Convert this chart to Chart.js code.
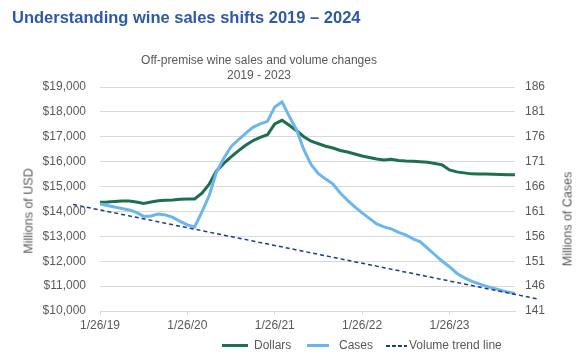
<!DOCTYPE html>
<html>
<head>
<meta charset="utf-8">
<script src="https://cdn.jsdelivr.net/npm/chart.js@4.4.1/dist/chart.umd.min.js"></script>
<style>
  body { margin: 0; background: #fff; font-family: "Liberation Sans", Arial, sans-serif; }
  #wrap { position: relative; width: 586px; height: 364px; overflow: hidden; }
  #wrap canvas { position: absolute; left: 0; top: 0; }
  .t { position: absolute; white-space: nowrap; color: #595959; font-size: 12px; line-height: 15px; }
  #head { left: 12px; top: 7px; font-size: 16.5px; line-height: 20px; font-weight: bold; color: #2E59A7; }
  #sub { left: 259px; top: 53px; transform: translateX(-50%); text-align: center; }
  .ytitle { font-size: 12.5px; transform: translate(-50%, -50%) rotate(-90deg); }
  .legline { position: absolute; height: 3px; }
</style>
</head>
<body>
<div id="wrap">
  <canvas id="chart" width="586" height="364"></canvas>
  <div class="t" id="head">Understanding wine sales shifts 2019 – 2024</div>
  <div class="t" id="sub">Off-premise wine sales and volume changes<br>2019 - 2023</div>
  <div class="t ytitle" style="left:29px; top:211px;">Millions of USD</div>
  <div class="t ytitle" style="left:568px; top:219px;">Millions of Cases</div>
  <div class="legline" style="left:222px; top:344px; width:26px; background:#1D6F4E;"></div>
  <div class="t" style="left:254px; top:338px;">Dollars</div>
  <div class="legline" style="left:307px; top:344px; width:22px; background:#6CB6EE;"></div>
  <div class="t" style="left:339px; top:338px;">Cases</div>
  <div class="legline" style="left:386px; top:345px; width:21px; height:1.5px; background:repeating-linear-gradient(90deg,#1F3C88 0 4px,transparent 4px 6px);"></div>
  <div class="t" style="left:409px; top:338px;">Volume trend line</div>
</div>
<script>
// tick labels and positions (month index from 1/26/19)
const xTickLabels = ['1/26/19', '1/26/20', '1/26/21', '1/26/22', '1/26/23'];
const xTickIndex = [0, 12, 24, 36, 48];
const dollarTicks = [10000, 11000, 12000, 13000, 14000, 15000, 16000, 17000, 18000, 19000];
const caseTicks = [141, 146, 151, 156, 161, 166, 171, 176, 181, 186];

// monthly off-premise sales, millions of USD
const dollars = [
  14370, 14380, 14400, 14420, 14420, 14380, 14320, 14380, 14430, 14450, 14460, 14490,
  14500, 14500, 14730, 15100, 15630, 15930, 16190, 16430, 16660, 16840, 16980, 17080,
  17520, 17660, 17460, 17240, 17000, 16820, 16720, 16620, 16550, 16450, 16390, 16310,
  16230, 16170, 16110, 16070, 16100, 16050, 16030, 16020, 16000, 15980, 15930, 15870,
  15670, 15590, 15550, 15510, 15500, 15500, 15490, 15480, 15475, 15470
];

// monthly volume, millions of cases
const cases = [
  162.5, 162.2, 161.9, 161.6, 161.3, 160.8, 160.0, 160.1, 160.5, 160.3, 159.8, 159.0,
  158.3, 157.9, 160.9, 164.2, 168.9, 171.7, 174.0, 175.4, 176.7, 177.9, 178.6, 179.1,
  182.0, 183.0, 180.1, 177.4, 173.4, 170.4, 168.6, 167.5, 166.5, 164.7, 163.2, 161.9,
  160.7, 159.6, 158.5, 157.9, 157.5, 156.8, 156.3, 155.5, 154.9, 153.6, 152.3, 151.0,
  149.9, 148.6, 147.7, 147.0, 146.5, 146.0, 145.6, 145.2, 144.8, 144.5
];

// linear trend of cases, extended past both ends
const trendIndex = [-3.7, 60.2];
const trendCases = [162.4, 143.4];

const font = { family: '"Liberation Sans", Arial, sans-serif', size: 12 };
const grey = '#595959';

new Chart(document.getElementById('chart'), {
  type: 'line',
  data: {
    datasets: [
      {
        label: 'Volume trend line',
        data: trendIndex.map((x, i) => ({ x: x, y: trendCases[i] })),
        yAxisID: 'y1',
        borderColor: '#1F3C88',
        borderWidth: 1.5,
        borderDash: [4, 3],
        pointRadius: 0,
        clip: false,
        order: 0
      },
      {
        label: 'Cases',
        data: cases.map((v, i) => ({ x: i, y: v })),
        yAxisID: 'y1',
        borderColor: '#6CB6EE',
        borderWidth: 3,
        pointRadius: 0,
        tension: 0,
        order: 1
      },
      {
        label: 'Dollars',
        data: dollars.map((v, i) => ({ x: i, y: v })),
        yAxisID: 'y',
        borderColor: '#1D6F4E',
        borderWidth: 3,
        pointRadius: 0,
        tension: 0,
        order: 2
      }
    ]
  },
  options: {
    responsive: false,
    animation: false,
    layout: { padding: { left: 0, right: 0, top: 87, bottom: 31 } },
    plugins: { legend: { display: false }, tooltip: { enabled: false } },
    scales: {
      x: {
        type: 'linear',
        min: 0,
        max: dollars.length - 1,
        afterBuildTicks: s => { s.ticks = xTickIndex.map(v => ({ value: v })); },
        afterFit: s => { s.height = 22; },
        ticks: {
          color: grey, font: font, padding: 3, maxRotation: 0, autoSkip: false,
          callback: v => xTickLabels[xTickIndex.indexOf(v)]
        },
        grid: { drawOnChartArea: false, drawTicks: true, tickLength: 4, color: '#d9d9d9' },
        border: { display: true, color: '#d9d9d9' }
      },
      y: {
        position: 'left',
        min: 10000,
        max: 19000,
        afterBuildTicks: s => { s.ticks = dollarTicks.map(v => ({ value: v })); },
        afterFit: s => { s.width = 100; },
        ticks: { color: grey, font: font, padding: 14, callback: v => '$' + v.toLocaleString('en-US') },
        grid: { color: '#d9d9d9', drawTicks: false },
        border: { display: false }
      },
      y1: {
        position: 'right',
        min: 141,
        max: 186,
        afterBuildTicks: s => { s.ticks = caseTicks.map(v => ({ value: v })); },
        afterFit: s => { s.width = 71; },
        ticks: { color: grey, font: font, padding: 10 },
        grid: { display: false, drawTicks: false },
        border: { display: false }
      }
    }
  }
});
</script>
</body>
</html>
